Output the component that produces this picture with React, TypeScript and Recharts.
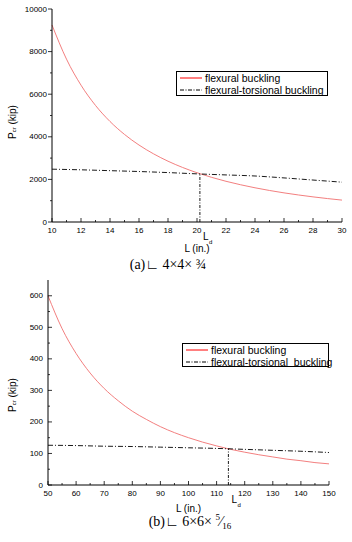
import { LineChart, Line, XAxis, YAxis, Legend } from 'recharts';

// (a) L4x4x3/4
const lengthsA = [10, 11, 12, 13, 14, 15, 16, 17, 18, 19, 20, 21, 22, 23, 24, 25, 26, 27, 28, 29, 30];
const flexuralA = [9250, 7645, 6424, 5473, 4719, 4111, 3613, 3201, 2855, 2562, 2313, 2098, 1911, 1749, 1606, 1480, 1368, 1269, 1180, 1100, 1028];
const torsionLengthsA = [10, 12, 14, 16, 18, 20, 22, 24, 26, 28, 30];
const torsionalA = [2480, 2450, 2410, 2370, 2320, 2260, 2210, 2160, 2070, 1970, 1870];
const ldA = 20.2;
const ldLoadA = 2260;
const xMajorA = [10, 12, 14, 16, 18, 20, 22, 24, 26, 28, 30];
const xMinorA = [11, 13, 15, 17, 19, 21, 23, 25, 27, 29];
const yMajorA = [0, 2000, 4000, 6000, 8000, 10000];
const yMinorA = [1000, 3000, 5000, 7000, 9000];

// (b) L6x6x5/16
const lengthsB = [50, 55, 60, 65, 70, 75, 80, 85, 90, 95, 100, 105, 110, 115, 120, 125, 130, 135, 140, 145, 150];
const flexuralB = [600, 496, 417, 355, 306, 267, 234, 208, 185, 166, 150, 136, 124, 113, 104, 96, 89, 82, 77, 71, 67];
const torsionLengthsB = [50, 60, 70, 80, 90, 100, 110, 120, 130, 140, 150];
const torsionalB = [126, 125, 123, 122, 120, 118, 116, 113, 110, 107, 103];
const ldB = 114.2;
const ldLoadB = 115;
const xMajorB = [50, 60, 70, 80, 90, 100, 110, 120, 130, 140, 150];
const xMinorB = [55, 65, 75, 85, 95, 105, 115, 125, 135, 145];
const yMajorB = [0, 100, 200, 300, 400, 500, 600];
const yMinorB = [50, 150, 250, 350, 450, 550];

const SANS = '"Liberation Sans", Arial, sans-serif';
const SERIF = '"Liberation Serif", "Times New Roman", serif';
const RED = '#f07070';

const toPts = (xs: number[], ys: number[]) => xs.map((L, i) => ({ L, P: ys[i] }));

function XTick(props: any) {
  const { x, y, payload, major } = props;
  const isMajor = major.includes(payload.value);
  return (
    <g>
      <line x1={x} x2={x} y1={y} y2={y - (isMajor ? 4 : 2)} stroke="#000" strokeWidth={0.8} />
      {isMajor && (
        <text x={x} y={y + 8} textAnchor="middle" dominantBaseline="central" fontSize={8} fontFamily={SANS} fill="#000">
          {payload.value}
        </text>
      )}
    </g>
  );
}

function YTick(props: any) {
  const { x, y, payload, major, outward } = props;
  const isMajor = major.includes(payload.value);
  const len = isMajor ? 4 : 2;
  return (
    <g>
      <line x1={x} x2={outward ? x - len : x + len} y1={y} y2={y} stroke="#000" strokeWidth={0.8} />
      {isMajor && (
        <text x={x - 5} y={y} textAnchor="end" dominantBaseline="central" fontSize={8} fontFamily={SANS} fill="#000">
          {payload.value}
        </text>
      )}
    </g>
  );
}

function YTitle(props: any) {
  const { cx, cy } = props;
  return (
    <text transform={`translate(${cx},${cy}) rotate(-90)`} textAnchor="middle" dominantBaseline="central" fontSize={10} fontFamily={SANS} fill="#000">
      P<tspan fontSize={6} dy={2}>cr</tspan>
      <tspan dy={-2}> (kip)</tspan>
    </text>
  );
}

function XTitle(props: any) {
  const { viewBox, dyc } = props;
  const vb = viewBox || { x: 0, y: 0, width: 0 };
  return (
    <text x={vb.x + vb.width / 2} y={vb.y + dyc} textAnchor="middle" dominantBaseline="central" fontSize={10} fontFamily={SANS} fill="#000">
      L (in.)
    </text>
  );
}

function LdMark(props: any) {
  const { cx, cy, index } = props;
  if (index !== 0) return <g key={`ld-${index}`} />;
  return (
    <g key={`ld-${index}`}>
      <text x={cx + 3} y={cy + 14} dominantBaseline="central" fontSize={10} fontFamily={SANS} fill="#000">L</text>
      <text x={cx + 9} y={cy + 20} dominantBaseline="central" fontSize={6} fontFamily={SANS} fill="#000">d</text>
    </g>
  );
}

function BoxLegend({ doubleSpace }: { doubleSpace?: boolean }) {
  const row = (dash: string | undefined, color: string, text: string) => (
    <div style={{ display: 'flex', alignItems: 'center', height: 12, whiteSpace: 'pre' }}>
      <svg width={26} height={12} style={{ flex: 'none' }}>
        <line x1={3} x2={25} y1={6} y2={6} stroke={color} strokeWidth={1} strokeDasharray={dash} />
      </svg>
      <span style={{ marginLeft: 2 }}>{text}</span>
    </div>
  );
  return (
    <div
      style={{
        boxSizing: 'border-box',
        border: '1px solid #000',
        background: '#fff',
        fontFamily: SANS,
        fontSize: 10.5,
        color: '#000',
        paddingTop: 0,
        height: '100%',
      }}
    >
      {row(undefined, '#ff0000', 'flexural buckling')}
      {row('4 1.5 1 1.5', '#000', doubleSpace ? 'flexural-torsional  buckling' : 'flexural-torsional buckling')}
    </div>
  );
}

export default function App() {
  return (
    <div style={{ position: 'absolute', left: 0, top: 0, width: 352, height: 542, background: '#fff' }}>
      <div style={{ position: 'absolute', left: 0, top: 0 }}>
        <LineChart width={352} height={258} margin={{ top: 9, right: 10, left: 0, bottom: 0 }}>
          <XAxis
            dataKey="L"
            type="number"
            domain={[10, 30]}
            ticks={[...xMajorA, ...xMinorA]}
            interval={0}
            tickSize={0}
            tickMargin={0}
            tickLine={false}
            height={36}
            stroke="#000"
            tick={<XTick major={xMajorA} />}
            label={<XTitle dyc={26} />}
          />
          <YAxis
            type="number"
            domain={[0, 10000]}
            ticks={[...yMajorA, ...yMinorA]}
            interval={0}
            tickSize={0}
            tickMargin={0}
            tickLine={false}
            width={52}
            stroke="#000"
            tick={<YTick major={yMajorA} outward />}
            label={<YTitle cx={12} cy={122} />}
          />
          <Legend
            layout="horizontal"
            verticalAlign="middle"
            align="center"
            content={<BoxLegend />}
            wrapperStyle={{ left: 176, top: 71, width: 152, height: 25 }}
          />
          <Line data={toPts(lengthsA, flexuralA)} dataKey="P" type="monotone" stroke={RED} strokeWidth={0.9} dot={false} isAnimationActive={false} />
          <Line data={toPts(torsionLengthsA, torsionalA)} dataKey="P" type="monotone" stroke="#000" strokeWidth={0.9} strokeDasharray="5 2 1 2" dot={false} isAnimationActive={false} />
          <Line data={toPts([ldA, ldA], [0, ldLoadA])} dataKey="P" type="linear" stroke="#000" strokeWidth={0.9} strokeDasharray="3 1.5 1 1.5" dot={<LdMark />} isAnimationActive={false} />
        </LineChart>
      </div>
      <div style={{ position: 'absolute', left: 0, width: 336, top: 257, textAlign: 'center', fontFamily: SERIF, fontSize: 14, color: '#000' }}>
        (a)∟ 4×4× ¾
      </div>

      <div style={{ position: 'absolute', left: 0, top: 270 }}>
        <LineChart width={352} height={272} margin={{ top: 10, right: 23, left: 0, bottom: 0 }}>
          <XAxis
            dataKey="L"
            type="number"
            domain={[50, 150]}
            ticks={[...xMajorB, ...xMinorB]}
            interval={0}
            tickSize={0}
            tickMargin={0}
            tickLine={false}
            height={57}
            stroke="#000"
            tick={<XTick major={xMajorB} />}
            label={<XTitle dyc={23} />}
          />
          <YAxis
            type="number"
            domain={[0, 650]}
            ticks={[...yMajorB, ...yMinorB]}
            interval={0}
            tickSize={0}
            tickMargin={0}
            tickLine={false}
            width={48}
            stroke="#000"
            tick={<YTick major={yMajorB} />}
            label={<YTitle cx={12} cy={125} />}
          />
          <Legend
            layout="horizontal"
            verticalAlign="middle"
            align="center"
            content={<BoxLegend doubleSpace />}
            wrapperStyle={{ left: 182, top: 73, width: 147, height: 24 }}
          />
          <Line data={toPts(lengthsB, flexuralB)} dataKey="P" type="monotone" stroke={RED} strokeWidth={0.9} dot={false} isAnimationActive={false} />
          <Line data={toPts(torsionLengthsB, torsionalB)} dataKey="P" type="monotone" stroke="#000" strokeWidth={0.9} strokeDasharray="5 2 1 2" dot={false} isAnimationActive={false} />
          <Line data={toPts([ldB, ldB], [0, ldLoadB])} dataKey="P" type="linear" stroke="#000" strokeWidth={0.9} strokeDasharray="3 1.5 1 1.5" dot={<LdMark />} isAnimationActive={false} />
        </LineChart>
      </div>
      <div style={{ position: 'absolute', left: 110, width: 160, top: 512, textAlign: 'center', fontFamily: SERIF, fontSize: 14, color: '#000' }}>
        (b)∟ 6×6× <sup style={{ fontSize: 9 }}>5</sup>⁄<sub style={{ fontSize: 9 }}>16</sub>
      </div>
    </div>
  );
}
